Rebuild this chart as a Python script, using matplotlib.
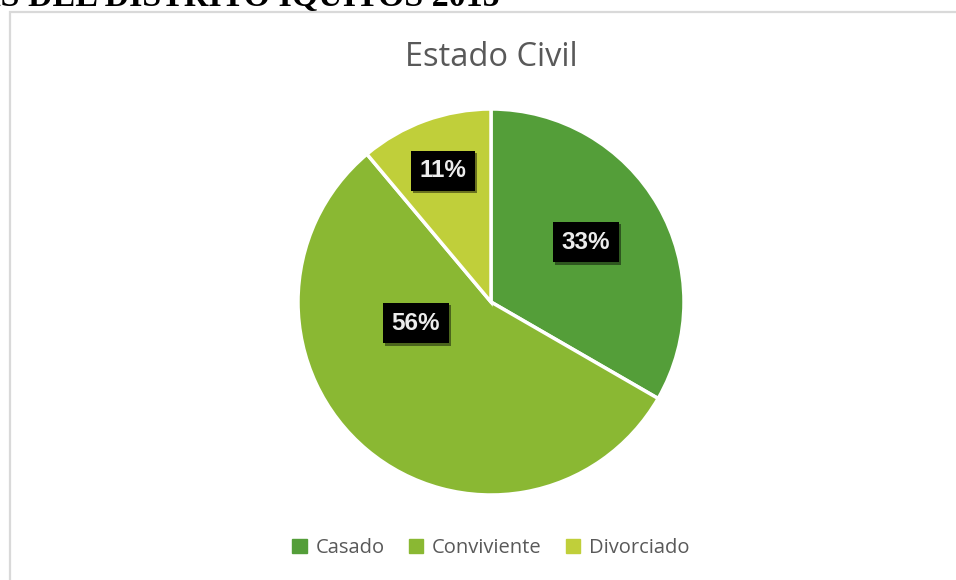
import matplotlib
matplotlib.use("Agg")
import matplotlib.pyplot as plt
import matplotlib.patches as mpatches
import matplotlib.patheffects as pe

# data
categorias = ['Casado', 'Conviviente', 'Divorciado']
valores = [3, 5, 1]
colores = ['#549E39', '#8AB833', '#C0CF3A']
titulo = 'Estado Civil'
encabezado = 'AS DEL DISTRITO IQUITOS 2015'

W, H = 956, 580
fig = plt.figure(figsize=(W / 100, H / 100), dpi=100)

# chart frame (cut off on right and bottom)
fig.patches.append(mpatches.Rectangle((10 / W, -0.1), 1.2, 1 - 12 / H + 0.1,
                                      transform=fig.transFigure, fill=False,
                                      edgecolor='#d9d9d9', lw=1.6, clip_on=False))

# cut-off heading from the document above
fig.text(500 / W, 1 - 6 / H, encabezado, ha='right', va='baseline',
         family='Liberation Serif', weight='bold', fontsize=24.5, color='black')

fig.text(491 / W, 1 - 58 / H, titulo, ha='center', va='center',
         family='Open Sans', fontsize=23.5, color='#595959')

cx, cy, r = 491, 302, 193
ax = fig.add_axes([(cx - r) / W, (H - cy - r) / H, 2 * r / W, 2 * r / H])
wedges, texts, autotexts = ax.pie(valores, colors=colores, startangle=90, counterclock=False,
                                  autopct='%1.0f%%', radius=1,
                                  wedgeprops=dict(edgecolor='white', linewidth=2.5))
ax.set_xlim(-1, 1)
ax.set_ylim(-1, 1)
ax.set_aspect('equal')
ax.axis('off')

# label positions (Excel best fit)
label_xy = [(0.49, 0.31), (-0.39, -0.11), (-0.25, 0.68)]
for t, xy in zip(autotexts, label_xy):
    t.set_position(xy)
    t.set_ha('center')
    t.set_va('center')
    t.set_family('Liberation Sans')
    t.set_weight('bold')
    t.set_fontsize(17.5)
    t.set_color('#ececec')
    t.set_bbox(dict(boxstyle='square,pad=0.36', facecolor='black', edgecolor='none'))
    t.get_bbox_patch().set_path_effects([pe.withSimplePatchShadow(offset=(1.5, -1.5), alpha=0.45)])

handles = [mpatches.Patch(color=c, label=l) for c, l in zip(colores, categorias)]
fig.legend(handles=handles, loc='center', bbox_to_anchor=(491 / W, 1 - 548 / H), ncol=3,
           frameon=False, handlelength=0.7, handleheight=0.7, handletextpad=0.45,
           columnspacing=1.2, prop={'family': 'Open Sans', 'size': 14.5}, labelcolor='#595959')

fig.savefig('out.png', dpi=100)
